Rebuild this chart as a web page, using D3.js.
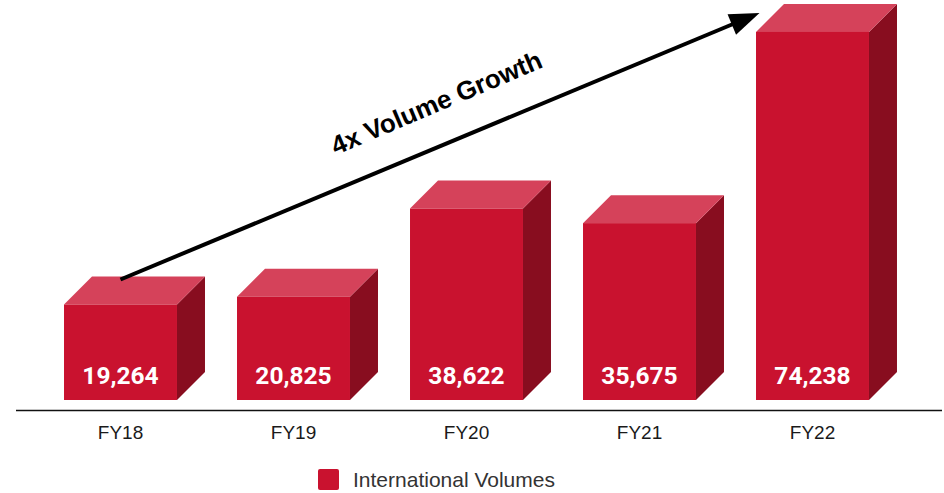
<!DOCTYPE html>
<html>
<head>
<meta charset="utf-8">
<script src="https://cdn.jsdelivr.net/npm/d3@7"></script>
<style>
  html, body { margin: 0; padding: 0; background: #fff; }
  svg { display: block; }
</style>
</head>
<body>
<svg id="chart" width="944" height="493"></svg>
<script>
// Fiscal years and international volumes
const categories = ["FY18", "FY19", "FY20", "FY21", "FY22"];
const volumes = [19264, 20825, 38622, 35675, 74238];
const seriesName = "International Volumes";
const annotation = "4x Volume Growth";

const W = 944, H = 493;
const svg = d3.select("#chart");

const colors = { front: "#c9122f", top: "#d5425a", side: "#880d1f" };
const depth = 28;
const baseY = 400;

const x = d3.scaleBand()
  .domain(categories)
  .range([34, 899])
  .paddingInner(0.347)
  .paddingOuter(0.1735);

const y = d3.scaleLinear()
  .domain([0, 80000])
  .range([baseY, 3.4]);

const data = categories.map((c, i) => ({ cat: c, value: volumes[i] }));
const bw = x.bandwidth();

// Axis baseline
svg.append("line")
  .attr("x1", 16).attr("x2", 942)
  .attr("y1", 410.5).attr("y2", 410.5)
  .attr("stroke", "#111").attr("stroke-width", 1.6);

// 3D bars: side, top and front faces
const bars = svg.append("g").selectAll("g.bar").data(data).join("g").attr("class", "bar");

bars.append("path")
  .attr("fill", colors.side)
  .attr("d", d => {
    const x1 = x(d.cat) + bw, yt = y(d.value);
    return `M${x1},${baseY}L${x1 + depth},${baseY - depth}L${x1 + depth},${yt - depth}L${x1},${yt}Z`;
  });

bars.append("path")
  .attr("fill", colors.top)
  .attr("d", d => {
    const x0 = x(d.cat), yt = y(d.value);
    return `M${x0},${yt}L${x0 + depth},${yt - depth}L${x0 + bw + depth},${yt - depth}L${x0 + bw},${yt}Z`;
  });

bars.append("rect")
  .attr("fill", colors.front)
  .attr("x", d => x(d.cat))
  .attr("y", d => y(d.value))
  .attr("width", bw)
  .attr("height", d => baseY - y(d.value));

// Value labels inside the bars
bars.append("text")
  .attr("x", d => x(d.cat) + bw / 2)
  .attr("y", baseY - 16)
  .attr("text-anchor", "middle")
  .attr("font-family", "Roboto, 'Open Sans', sans-serif")
  .attr("font-weight", 700)
  .attr("font-size", 24.5)
  .attr("fill", "#fff")
  .text(d => d3.format(",")(d.value));

// Category labels
svg.append("g").selectAll("text").data(categories).join("text")
  .attr("x", d => x(d) + bw / 2)
  .attr("y", 439)
  .attr("text-anchor", "middle")
  .attr("font-family", "'Liberation Sans', Arial, sans-serif")
  .attr("font-size", 19)
  .attr("fill", "#1a1a1a")
  .text(d => d);

// Growth arrow from the first bar to the last
const first = data[0], last = data[data.length - 1];
const sx = x(first.cat) + bw / 2, sy = y(first.value) - 25;
const tx = x(last.cat) + bw / 2 - 53, ty = y(last.value) - 19;
const ang = Math.atan2(ty - sy, tx - sx);
const headLen = 30, headHalf = 11;
const bx = tx - headLen * Math.cos(ang), by = ty - headLen * Math.sin(ang);
svg.append("line")
  .attr("x1", sx).attr("y1", sy)
  .attr("x2", bx + 4 * Math.cos(ang)).attr("y2", by + 4 * Math.sin(ang))
  .attr("stroke", "#000").attr("stroke-width", 4);
svg.append("path")
  .attr("fill", "#000")
  .attr("d", `M${tx},${ty}` +
    `L${bx - headHalf * Math.sin(ang)},${by + headHalf * Math.cos(ang)}` +
    `L${bx + headHalf * Math.sin(ang)},${by - headHalf * Math.cos(ang)}Z`);

svg.append("text")
  .attr("transform", "translate(440,111) rotate(-23)")
  .attr("text-anchor", "middle")
  .attr("font-family", "'Liberation Sans', Arial, sans-serif")
  .attr("font-weight", 700)
  .attr("font-size", 26)
  .attr("fill", "#000")
  .text(annotation);

// Legend
const legend = svg.append("g").attr("transform", "translate(318,469)");
legend.append("rect")
  .attr("width", 21).attr("height", 21).attr("rx", 2)
  .attr("fill", colors.front);
legend.append("text")
  .attr("x", 35).attr("y", 18)
  .attr("font-family", "'Liberation Sans', Arial, sans-serif")
  .attr("font-size", 21)
  .attr("fill", "#333")
  .text(seriesName);
</script>
</body>
</html>
